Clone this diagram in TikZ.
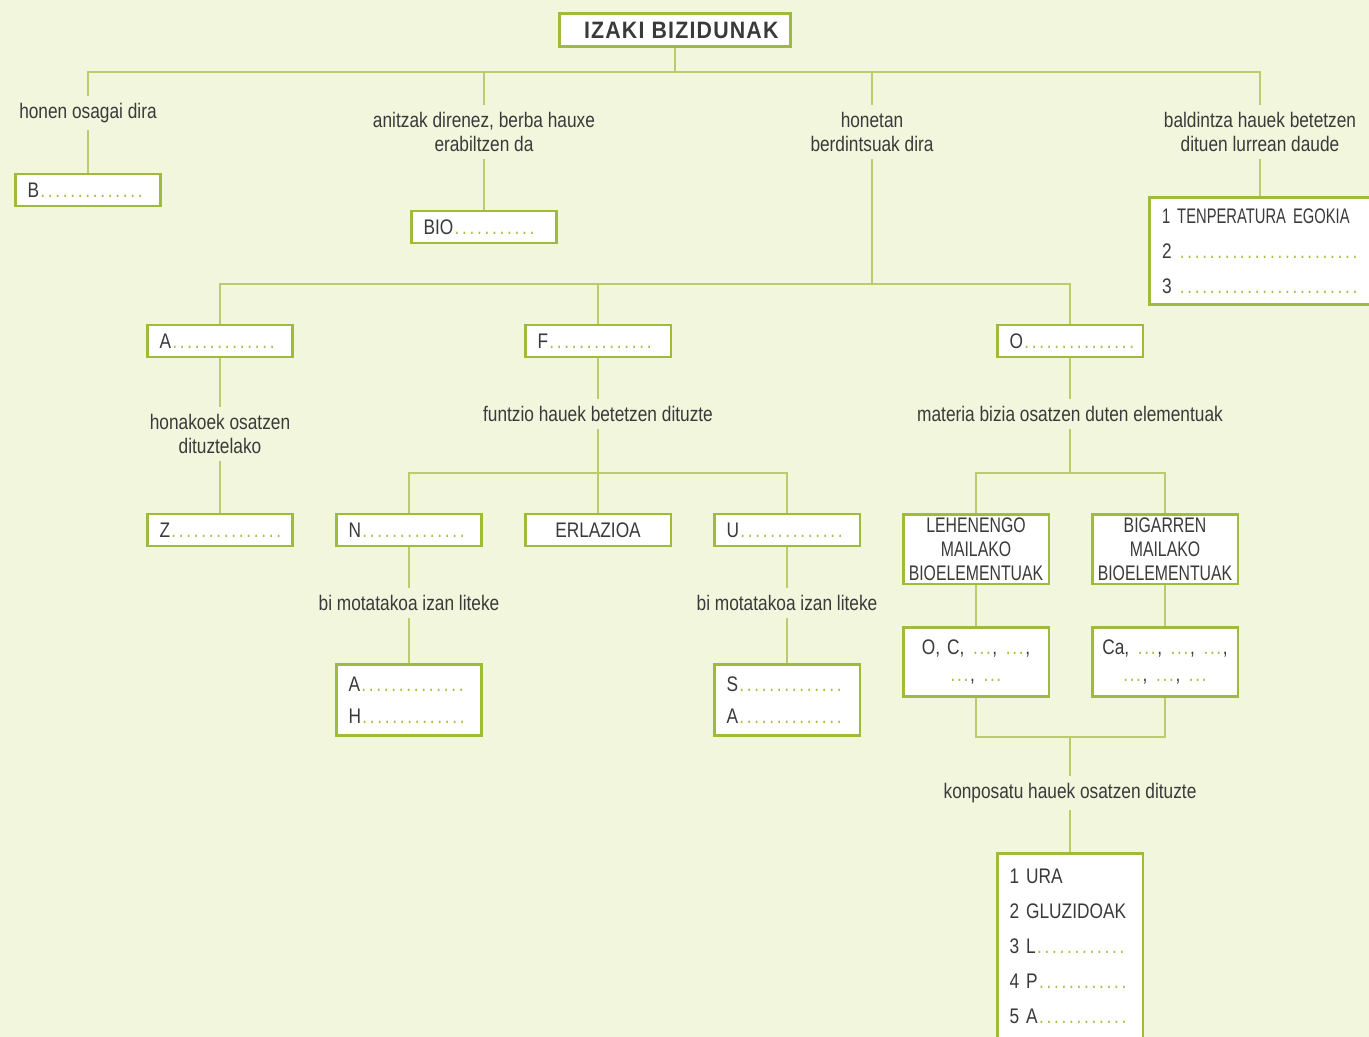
\documentclass[tikz,border=0pt]{standalone}
\usepackage{fontspec}
\setmainfont[FakeStretch=0.82]{Liberation Sans}
\newfontfamily\titlefont[FakeStretch=0.9,LetterSpace=5]{Liberation Sans}
\newfontfamily\narrowfont[FakeStretch=0.75]{Liberation Sans}
\newfontfamily\narrowerfont[FakeStretch=0.70]{Liberation Sans}
\usetikzlibrary{positioning,backgrounds}
\definecolor{paper}    {HTML}{F2F6DD}
\definecolor{ink}      {HTML}{3A3A3A}
\definecolor{boxgreen} {HTML}{9FBB3A}
\definecolor{linegreen}{HTML}{BACC6E}
\definecolor{dotgreen} {HTML}{A6C043}
% green dotted blanks to fill in
\newcommand{\dts}[1]{{\color{dotgreen}\foreach\i in {1,...,#1}{\makebox[0.15cm]{.}}}}
\newcommand{\etc}{\textcolor{dotgreen}{\makebox[0.42cm]{.\hfil.\hfil.}}}
\tikzset{
  titlebox/.style ={draw=boxgreen, fill=white, line width=1.7pt,
                    minimum width=4.64cm, minimum height=0.66cm, inner sep=0pt,
                    font=\titlefont\bfseries\fontsize{13.5}{15}\selectfont},
  blankbox/.style ={draw=boxgreen, fill=white, line width=1.7pt,
                    minimum height=0.64cm, text width=2.42cm,
                    inner xsep=0.25cm, inner ysep=0pt, align=left},
  centbox/.style  ={draw=boxgreen, fill=white, line width=1.7pt,
                    minimum height=0.64cm, text width=2.74cm,
                    inner xsep=0.09cm, inner ysep=0pt, align=center},
  listbox/.style  ={blankbox, font=\fontsize{12}{19.9}\selectfont},
  lbl/.style      ={align=center, inner xsep=2pt, inner ysep=0.14cm},
  conn/.style     ={draw=linegreen, line width=1.4pt},
}

\begin{document}
\begin{tikzpicture}[x=0.02cm,y=-0.02cm,font=\fontsize{12}{13.6}\selectfont,text=ink]
  \useasboundingbox (0,0) rectangle (1369,1037);

  \node[titlebox] (title) at (675,30) {\hspace{0.25cm}IZAKI BIZIDUNAK};

  % first level
  \node[lbl] (l1) at (88,113)  {honen osagai dira};
  \node[lbl] (l2) at (484,132) {anitzak direnez, berba hauxe\\erabiltzen da};
  \node[lbl] (l3) at (872,132) {honetan\\berdintsuak dira};
  \node[lbl] (l4) at (1260,132) {baldintza hauek betetzen\\dituen lurrean daude};

  \node[blankbox] (bB)   at (88,190)  {B\dts{14}};
  \node[blankbox] (bBio) at (484,227) {BIO\dts{11}};
  \node[listbox,anchor=west,text width=4.4cm,minimum height=2.16cm] (bTemp) at (1148,251)
    {{\narrowerfont 1 TENPERATURA EGOKIA}\\2 \dts{24}\\3 \dts{24}};

  % second level
  \node[blankbox] (bA) at (220,341)  {A\dts{14}};
  \node[blankbox] (bF) at (598,341)  {F\dts{14}};
  \node[blankbox] (bO) at (1070,341) {O\dts{15}};

  \node[lbl] (lA) at (220,434)  {honakoek osatzen\\dituztelako};
  \node[lbl] (lF) at (598,414)  {funtzio hauek betetzen dituzte};
  \node[lbl] (lO) at (1070,414) {materia bizia osatzen duten elementuak};

  \node[blankbox] (bZ)   at (220,530) {Z\dts{15}};
  \node[blankbox] (bN)   at (409,530) {N\dts{14}};
  \node[centbox]  (bErl) at (598,530) {ERLAZIOA};
  \node[blankbox] (bU)   at (787,530) {U\dts{14}};

  \node[lbl] (lN) at (409,603) {bi motatakoa izan liteke};
  \node[lbl] (lU) at (787,603) {bi motatakoa izan liteke};

  \node[blankbox,minimum height=1.42cm,font=\fontsize{12}{18.2}\selectfont] (bAH) at (409,700)
    {A\dts{14}\\H\dts{14}};
  \node[blankbox,minimum height=1.42cm,font=\fontsize{12}{18.2}\selectfont] (bSA) at (787,700)
    {S\dts{14}\\A\dts{14}};

  % bioelementuak
  \node[centbox,minimum height=1.4cm,font=\narrowfont\fontsize{12}{13.6}\selectfont] (bLeh) at (976,549)
    {LEHENENGO\\MAILAKO\\BIOELEMENTUAK};
  \node[centbox,minimum height=1.4cm,font=\narrowfont\fontsize{12}{13.6}\selectfont] (bBig) at (1165,549)
    {BIGARREN\\MAILAKO\\BIOELEMENTUAK};
  \node[centbox,minimum height=1.38cm,font=\fontsize{12}{15}\selectfont] (bEl1) at (976,662)
    {O, C, \etc, \etc,\\\etc, \etc};
  \node[centbox,minimum height=1.38cm,font=\fontsize{12}{15}\selectfont] (bEl2) at (1165,662)
    {Ca, \etc, \etc, \etc,\\\etc, \etc, \etc};

  \node[lbl] (lK) at (1070,793) {konposatu hauek osatzen dituzte};
  \node[listbox,minimum height=3.7cm] (bKomp) at (1070,946)
    {1 URA\\2 GLUZIDOAK\\3 L\dts{12}\\4 P\dts{12}\\5 A\dts{12}};

  \coordinate (hub1) at (675,72);
  \coordinate (hub2) at (872,284);
  \coordinate (hub3) at (598,473);
  \coordinate (hub4) at (1070,473);
  \coordinate (hub5) at (1070,737);

  \begin{pgfonlayer}{background}
    \fill[paper] (0,0) rectangle (1369,1037);
    \draw[conn] (title.south) -- (hub1);
    \draw[conn] (l1.north) |- (hub1);
    \draw[conn] (l2.north) |- (hub1);
    \draw[conn] (l3.north) |- (hub1);
    \draw[conn] (l4.north) |- (hub1);
    \draw[conn] (l1.south) -- (bB.north);
    \draw[conn] (l2.south) -- (bBio.north);
    \draw[conn] (l4.south) -- (l4.south |- bTemp.north);
    \draw[conn] (l3.south) -- (hub2);
    \draw[conn] (bA.north) |- (hub2);
    \draw[conn] (bF.north) |- (hub2);
    \draw[conn] (bO.north) |- (hub2);
    \draw[conn] (bA.south) -- (lA.north);
    \draw[conn] (lA.south) -- (bZ.north);
    \draw[conn] (bF.south) -- (lF.north);
    \draw[conn] (lF.south) -- (hub3);
    \draw[conn] (bN.north) |- (hub3);
    \draw[conn] (bErl.north) -- (hub3);
    \draw[conn] (bU.north) |- (hub3);
    \draw[conn] (bN.south) -- (lN.north);
    \draw[conn] (lN.south) -- (bAH.north);
    \draw[conn] (bU.south) -- (lU.north);
    \draw[conn] (lU.south) -- (bSA.north);
    \draw[conn] (bO.south) -- (lO.north);
    \draw[conn] (lO.south) -- (hub4);
    \draw[conn] (bLeh.north) |- (hub4);
    \draw[conn] (bBig.north) |- (hub4);
    \draw[conn] (bLeh.south) -- (bEl1.north);
    \draw[conn] (bBig.south) -- (bEl2.north);
    \draw[conn] (bEl1.south) |- (hub5);
    \draw[conn] (bEl2.south) |- (hub5);
    \draw[conn] (hub5) -- (lK.north);
    \draw[conn] (lK.south) -- (bKomp.north);
  \end{pgfonlayer}
\end{tikzpicture}
\end{document}
